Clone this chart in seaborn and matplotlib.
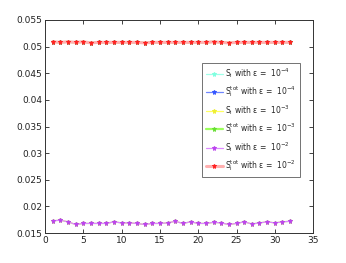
import numpy as np
import pandas as pd
import matplotlib
matplotlib.use("Agg")
import matplotlib.pyplot as plt
import matplotlib.ticker as mticker
import seaborn as sns

sns.set_theme(style="ticks")
plt.rcParams['font.family'] = ['DejaVu Sans']

x = list(range(1, 33))

s_tot = [0.0509, 0.0508, 0.0509, 0.0508, 0.0509, 0.0507, 0.0508, 0.0508,
         0.0508, 0.0508, 0.0508, 0.0508, 0.0507, 0.0508, 0.0508, 0.0508,
         0.0508, 0.0508, 0.0508, 0.0508, 0.0508, 0.0509, 0.0508, 0.0507,
         0.0508, 0.0508, 0.0508, 0.0508, 0.0508, 0.0508, 0.0508, 0.0508]

s_first = [0.0173, 0.0174, 0.0171, 0.0166, 0.0168, 0.0168, 0.0168, 0.0168,
           0.0171, 0.0169, 0.0169, 0.0168, 0.0166, 0.0168, 0.0168, 0.0169,
           0.0172, 0.0168, 0.0171, 0.0168, 0.0168, 0.0170, 0.0169, 0.0166,
           0.0168, 0.0171, 0.0167, 0.0169, 0.0171, 0.0169, 0.0171, 0.0172]

labels = [r'S$_\mathregular{i}$ with ε =  10$^{-4}$',
          r'S$_\mathregular{i}^\mathregular{tot}$ with ε =  10$^{-4}$',
          r'S$_\mathregular{i}$ with ε =  10$^{-3}$',
          r'S$_\mathregular{i}^\mathregular{tot}$ with ε =  10$^{-3}$',
          r'S$_\mathregular{i}$ with ε =  10$^{-2}$',
          r'S$_\mathregular{i}^\mathregular{tot}$ with ε =  10$^{-2}$']

series = [s_first, s_tot, s_first, s_tot, s_first, s_tot]
line_colors = ['#9fffe8', '#6f86ff', '#ffff60', '#9cff5c', '#dd88ff', '#ffb0b0']
marker_colors = ['#80ffe0', '#3355ff', '#eeee30', '#66dd33', '#bb44ee', '#ff2020']
lws = [0.9, 0.9, 0.9, 1.6, 0.9, 2.2]

fig = plt.figure(figsize=(3.46, 2.63), dpi=100)
ax = fig.add_axes([0.130, 0.114, 0.775, 0.810])

for vals, lab, lc, mc, lw in zip(series, labels, line_colors, marker_colors, lws):
    df = pd.DataFrame({'x': x, 'y': vals})
    sns.lineplot(data=df, x='x', y='y', ax=ax, color=lc, linewidth=lw,
                 marker='*', markersize=3.6, markerfacecolor=mc,
                 markeredgecolor=mc, markeredgewidth=0.6, label=lab)

ax.set_xlim(0, 35)
ax.set_ylim(0.015, 0.055)
ax.set_xticks(np.arange(0, 36, 5))
ax.set_yticks(np.arange(0.015, 0.0551, 0.005))
ax.yaxis.set_major_formatter(mticker.FuncFormatter(lambda v, p: ('%g' % round(v, 4))))
ax.set_xlabel('')
ax.set_ylabel('')
ax.tick_params(direction='in', labelsize=6.5, length=3, width=0.6,
               top=True, right=True, pad=2, colors='#222222')
for s in ax.spines.values():
    s.set_linewidth(0.7)
    s.set_color('#333333')

leg = ax.legend(loc='upper left', bbox_to_anchor=(0.586, 0.80), fontsize=5.5,
                frameon=True, fancybox=False, edgecolor='#333333',
                handlelength=2.3, labelspacing=0.55, borderpad=0.45,
                handletextpad=0.3, borderaxespad=0)
leg.get_frame().set_linewidth(0.6)

fig.savefig('out.png', dpi=100, facecolor='white')
